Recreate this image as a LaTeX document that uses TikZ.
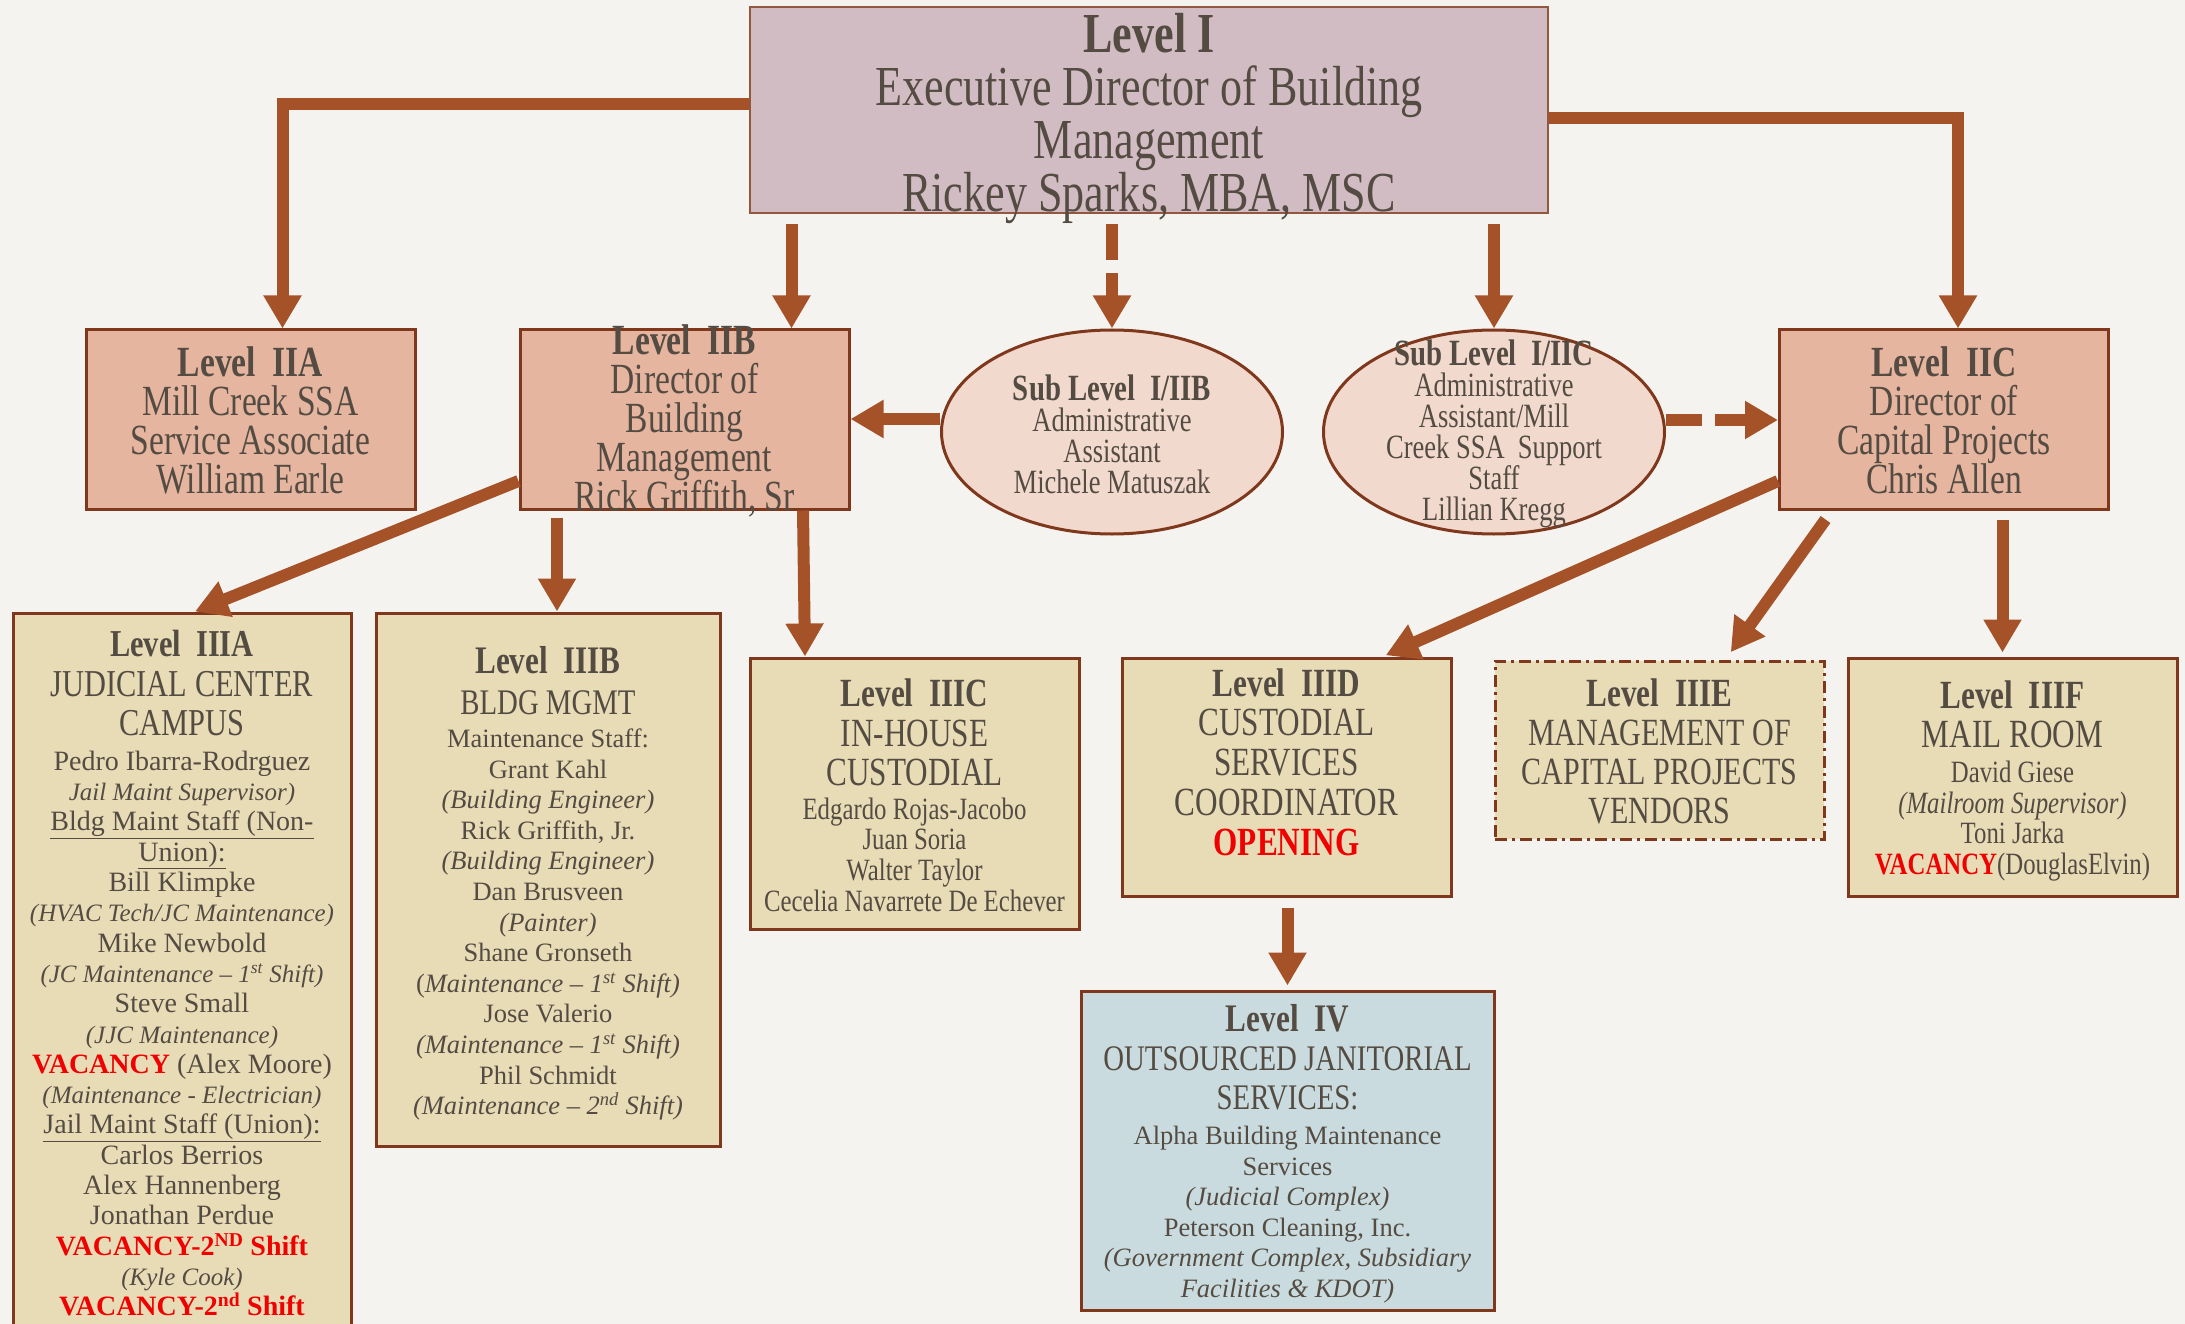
\documentclass[tikz,border=0pt]{standalone}
\usepackage{fontspec}
\setmainfont{Liberation Serif}
\newfontfamily\condfont{Liberation Serif}[FakeStretch=0.78]
\newfontfamily\semifont{Liberation Serif}[FakeStretch=0.80]
\usetikzlibrary{arrows.meta,shapes.geometric}
\definecolor{color0}{RGB}{244,243,240}
\definecolor{color1}{RGB}{166,82,40}
\definecolor{color2}{RGB}{128,56,28}
\definecolor{color3}{RGB}{210,188,196}
\definecolor{color4}{RGB}{229,181,160}
\definecolor{color5}{RGB}{242,217,206}
\definecolor{color6}{RGB}{232,220,183}
\definecolor{color7}{RGB}{201,219,222}
\definecolor{color8}{RGB}{84,76,66}
\definecolor{color9}{RGB}{240,0,0}
\newcommand{\fsz}[2]{\fontsize{#1}{#2}\selectfont\lineskiplimit=-100pt\relax}
\newcommand{\hd}[2]{{\bfseries\fontsize{#1}{#1}\selectfont #2}}
\newcommand{\tline}[2]{{\fontsize{#1}{#1}\selectfont #2}}
\newcommand{\vac}[1]{{\color{color9}\bfseries #1}}
\newcommand{\note}[1]{{\itshape\fontsize{25}{30}\selectfont #1}}
\tikzset{
  lvlbox/.style = {rectangle, draw=color2, line width=3pt, inner sep=0pt},
  subnode/.style = {ellipse, draw=color2, line width=3pt, fill=color5, inner sep=0pt,
    minimum width=341pt, minimum height=204pt},
  lvltext/.style = {align=center, text=color8, inner sep=0pt},
  arr/.style = {->, draw=color1, line width=12pt},
  dashpat/.style = {dash pattern=on 36pt off 13pt},
}

\begin{document}
\begin{tikzpicture}[>={Triangle[width=36pt,length=33pt]}, x=1pt, y=-1pt]
\useasboundingbox (0,0) rectangle (2185,1324);
\clip (0,0) rectangle (2185,1324);
\fill[color0] (0,0) rectangle (2185,1324);

% boxes
\node[lvlbox, fill=color3, draw=color2!85, line width=2pt, minimum width=798pt, minimum height=206pt] (lvlI) at (1149,110) {};
\node[lvlbox, fill=color4, minimum width=329pt, minimum height=179pt] (iia) at (250.5,419.5) {};
\node[lvlbox, fill=color4, minimum width=329pt, minimum height=179pt] (iib) at (684.5,419.5) {};
\node[lvlbox, fill=color4, minimum width=329pt, minimum height=179pt] (iic) at (1944,419.5) {};
\node[subnode] (subb) at (1112,432) {};
\node[subnode] (subc) at (1494,432) {};
\node[lvlbox, fill=color6, minimum width=338pt, minimum height=727pt] (iiia) at (182,976.5) {};
\node[lvlbox, fill=color6, minimum width=344pt, minimum height=533pt] (iiib) at (548,879.5) {};
\node[lvlbox, fill=color6, minimum width=329pt, minimum height=271pt] (iiic) at (914.5,793.5) {};
\node[lvlbox, fill=color6, minimum width=329pt, minimum height=238pt] (iiid) at (1286.5,777) {};
\node[lvlbox, fill=color6, dash pattern=on 12pt off 5pt on 3pt off 5pt, minimum width=329pt, minimum height=178pt] (iiie) at (1659.5,750) {};
\node[lvlbox, fill=color6, minimum width=329pt, minimum height=238pt] (iiif) at (2012.5,777) {};
\node[lvlbox, fill=color7, minimum width=413pt, minimum height=319pt] (iv) at (1287.5,1150.5) {};

% connectors
\draw[arr] ([yshift=5.5pt]lvlI.west) -| ([xshift=32pt]iia.north);
\draw[arr, shorten <=10pt] ([xshift=107pt]iib.north |- lvlI.south) -- ([xshift=107pt]iib.north);
\draw[arr, dashpat, shorten <=10pt] (subb.north |- lvlI.south) -- (subb.north);
\draw[arr, shorten <=10pt] (subc.north |- lvlI.south) -- (subc.north);
\draw[arr] ([yshift=-8.5pt]lvlI.east) -| ([xshift=14pt]iic.north);
\draw[arr] ([yshift=13pt]subb.west) -- ([yshift=13pt]subb.west -| iib.east);
\draw[arr, dashpat] ([yshift=12pt]subc.east) -- ([yshift=12pt]subc.east -| iic.west);
\draw[arr] ([yshift=-61.5pt]iib.west) -- ([xshift=13pt]iiia.north);
\draw[arr, shorten <=7pt] ([xshift=9pt]iiib.north |- iib.south) -- ([xshift=9pt]iiib.north);
\draw[arr] ([xshift=118.5pt]iib.south) -- ([xshift=-109.5pt]iiic.north);
\draw[arr, shorten >=3pt] ([yshift=-61.5pt]iic.west) -- ([xshift=96.5pt]iiid.north);
\draw[arr, shorten >=9pt] ([xshift=-118.5pt,yshift=-9pt]iic.south) -- ([xshift=66pt]iiie.north);
\draw[arr, shorten <=9pt, shorten >=4pt] ([xshift=-10pt]iiif.north |- iic.south) -- ([xshift=-10pt]iiif.north);
\draw[arr, shorten <=10pt, shorten >=4pt] ([xshift=1pt]iiid.south) -- (iv.north);

% texts
\node[lvltext, font=\condfont\fsz{56.5}{53}] (lvlI-t) at (1149,118)
  {\textbf{Level I}\\Executive Director of Building\\Management\\Rickey Sparks, MBA, MSC};
\node[lvltext, font=\condfont\fsz{43}{39}] (iia-t) at (250.5,420)
  {\textbf{Level~~IIA}\\Mill Creek SSA\\Service Associate\\William Earle};
\node[lvltext, font=\condfont\fsz{43}{39}] (iib-t) at (684.5,421)
  {\textbf{Level~~IIB}\\Director of\\Building\\Management\\Rick Griffith, Sr};
\node[lvltext, font=\condfont\fsz{43}{39}] (iic-t) at (1944,420)
  {\textbf{Level~~IIC}\\Director of\\Capital Projects\\Chris Allen};
\node[lvltext, font=\condfont\fsz{34}{31}] (subb-t) at (1112,434)
  {\hd{37}{Sub Level~~I/IIB}\\Administrative\\Assistant\\Michele Matuszak};
\node[lvltext, font=\condfont\fsz{34}{31}] (subc-t) at (1494,434)
  {\hd{37}{Sub Level~~I/IIC}\\Administrative\\Assistant/Mill\\Creek SSA~~Support\\Staff\\Lillian Kregg};
\node[lvltext, font=\fsz{28}{30.3}] (iiia-t) at (182,973)
  {{\semifont\hd{38}{Level~~IIIA}}\\[10.1pt]
   {\semifont\tline{38}{JUDICIAL CENTER}}\\[8.7pt]
   {\semifont\tline{38}{CAMPUS}}\\[4.5pt]
   Pedro Ibarra-Rodrguez\\
   \note{Jail Maint Supervisor)}\\
   \underline{Bldg Maint Staff (Non-}\\
   \underline{Union):}\\
   Bill Klimpke\\
   \note{(HVAC Tech/JC Maintenance)}\\
   Mike Newbold\\
   \note{(JC Maintenance – 1\textsuperscript{st} Shift)}\\
   Steve Small\\
   \note{(JJC Maintenance)}\\
   \vac{VACANCY} (Alex Moore)\\
   \note{(Maintenance - Electrician)}\\
   \underline{Jail Maint Staff (Union):}\\
   Carlos Berrios\\
   Alex Hannenberg\\
   Jonathan Perdue\\
   \vac{VACANCY-2\textsuperscript{ND} Shift}\\
   \note{(Kyle Cook)}\\
   \vac{VACANCY-2\textsuperscript{nd} Shift}};
\node[lvltext, font=\fsz{26.5}{30.6}] (iiib-t) at (548,883.5)
  {{\semifont\hd{39}{Level~~IIIB}}\\[9.8pt]
   {\semifont\tline{36}{BLDG MGMT}}\\[2.8pt]
   Maintenance Staff:\\
   Grant Kahl\\
   \textit{(Building Engineer)}\\
   Rick Griffith, Jr.\\
   \textit{(Building Engineer)}\\
   Dan Brusveen\\
   \textit{(Painter)}\\
   Shane Gronseth\\
   (\textit{Maintenance – 1\textsuperscript{st} Shift)}\\
   Jose Valerio\\
   \textit{(Maintenance – 1\textsuperscript{st} Shift)}\\
   Phil Schmidt\\
   \textit{(Maintenance – 2\textsuperscript{nd} Shift)}};
\node[lvltext, font=\semifont\fsz{31}{30.7}] (iiic-t) at (914.5,795)
  {{\condfont\hd{40}{Level~~IIIC}}\\[9.7pt]
   {\condfont\tline{40}{IN-HOUSE}}\\[8.3pt]
   {\condfont\tline{40}{CUSTODIAL}}\\[2.7pt]
   Edgardo Rojas-Jacobo\\Juan Soria\\Walter Taylor\\Cecelia Navarrete De Echever};
\node[lvltext, font=\condfont\fsz{40}{39.7}] (iiid-t) at (1286.5,762)
  {\hd{40}{Level~~IIID}\\CUSTODIAL\\SERVICES\\COORDINATOR\\\vac{OPENING}};
\node[lvltext, font=\condfont\fsz{38.5}{39}] (iiie-t) at (1659.5,751)
  {\hd{40}{Level~~IIIE}\\MANAGEMENT OF\\CAPITAL PROJECTS\\VENDORS};
\node[lvltext, font=\semifont\fsz{31}{30.7}] (iiif-t) at (2012.5,781)
  {{\condfont\hd{40}{Level~~IIIF}}\\[8.3pt]
   {\condfont\tline{40}{MAIL ROOM}}\\[4.1pt]
   David Giese\\\textit{(Mailroom Supervisor)}\\Toni Jarka\\\vac{VACANCY}(DouglasElvin)};
\node[lvltext, font=\fsz{26.5}{30.6}] (iv-t) at (1287.5,1153.8)
  {{\semifont\hd{39}{Level~~IV}}\\[8.4pt]
   {\semifont\tline{36}{OUTSOURCED JANITORIAL}}\\[8.4pt]
   {\semifont\tline{36}{SERVICES:}}\\[4.2pt]
   Alpha Building Maintenance\\Services\\\textit{(Judicial Complex)}\\Peterson Cleaning, Inc.\\
   \textit{(Government Complex, Subsidiary}\\\textit{Facilities \& KDOT)}};
\end{tikzpicture}
\end{document}
